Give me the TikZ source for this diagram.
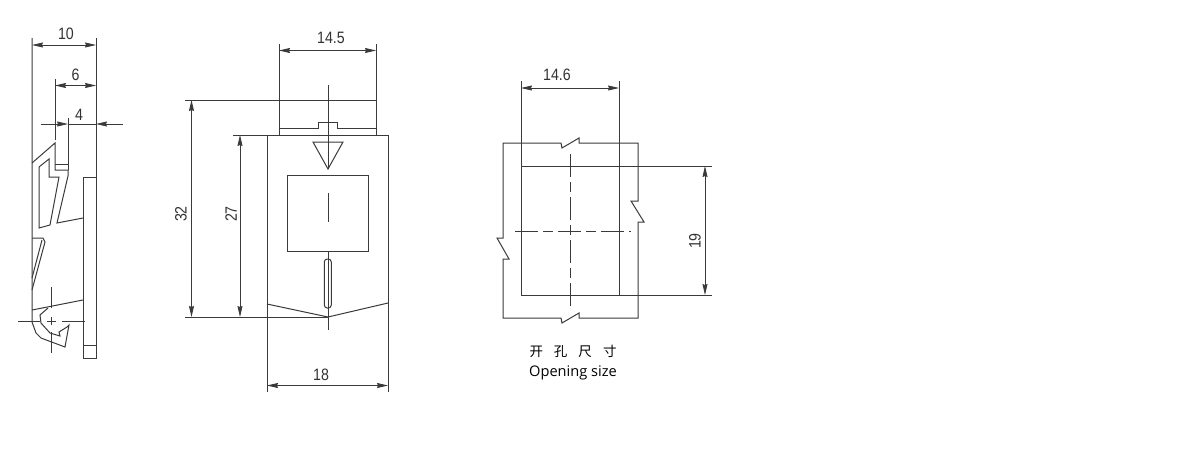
\documentclass[tikz,border=0pt]{standalone}
\usepackage{fontspec}
\setmainfont{Liberation Sans}
\newfontfamily\openfont{Open Sans}
\newfontfamily\cjkfont{Noto Sans CJK SC}
\usetikzlibrary{
    arrows.meta,
    positioning,
    calc
}
\definecolor{inkline}{HTML}{3A3A3A}
\definecolor{inktext}{HTML}{333333}
\newcommand{\dimtext}[1]{\scalebox{0.86}[1]{#1}}
\tikzset{
    % Outline of the parts
    outline/.style={
        draw=inkline,
        line width=1pt,
        line join=miter
    },
    % Thin extension lines
    extline/.style={
        draw=inkline,
        line width=0.9pt
    },
    % Dimension line with arrows at both ends
    dimline/.style={
        {Stealth[length=11pt, width=5pt, inset=1pt]}-{Stealth[length=11pt, width=5pt, inset=1pt]},
        draw=inkline,
        line width=0.8pt
    },
    % Arrow used by an outside dimension
    dimtip/.style={
        -{Stealth[length=11pt, width=5pt, inset=1pt]},
        draw=inkline,
        line width=0.8pt
    },
    % Centre lines
    centerline/.style={
        draw=inkline,
        line width=1pt,
        dash pattern=on 23pt off 5pt on 10pt off 5pt
    },
    % Dimension label
    dimlabel/.style={
        font=\fontsize{16.5}{18}\selectfont,
        text=inktext,
        inner sep=0pt
    }
}
\begin{document}
\begin{tikzpicture}[x=1pt, y=-1pt]
        \useasboundingbox[fill=white] (0,0) rectangle (1180,450);

        % Side view
        \draw[outline] (32,38) -- (32,322) -- (36,333) -- (41,338) -- (65,347) -- (69,325) -- (67,327) -- (59,332) -- (60,336) -- (50,333) -- (41,323) -- (40,315) -- (48,308);
        \draw[outline] (32,163) -- (55,143) -- (55,170) -- (68,170);
        \draw[outline] (55,164) -- (68,164);
        \draw[outline] (68,170) -- (68,176) -- (57,223) -- (83,218);
        \draw[outline] (39,167) -- (49,159) -- (49,177) -- (59,177) -- (50,225) -- (39,228) -- cycle;
        \draw[outline] (96,38) -- (96,358) -- (83,358) -- (83,177) -- (96,177);
        \draw[outline] (83,345) -- (96,345);
        \draw[outline] (32,238) -- (43,238) -- (45,242) -- (32,290);
        \draw[outline] (42,240) -- (32,278);
        \draw[outline] (32,310) -- (83,300);
        \draw[extline] (18,321) -- (40,321);
        \draw[extline] (47,321) -- (56,321);
        \draw[extline] (62,321) -- (85,321);
        \draw[extline] (51,287) -- (51,308);
        \draw[extline] (51,317) -- (51,325);
        \draw[extline] (51,332) -- (51,353);
        \draw[extline] (55,79) -- (55,140);
        \draw[extline] (68,118) -- (68,170);

        \coordinate (sideten1) at (32,45);
        \coordinate (sideten2) at (96,45);
        \coordinate (sidesix1) at (55,85.5);
        \coordinate (sidesix2) at (96,85.5);
        \coordinate (sidefour1) at (68,124);
        \coordinate (sidefour2) at (96,124);
        \coordinate (sidefourtail1) at (41,124);
        \coordinate (sidefourtail2) at (123,124);
        \draw[dimline] (sideten1) -- (sideten2);
        \draw[dimline] (sidesix1) -- (sidesix2);
        \draw[extline] (sidefour1) -- (sidefour2);
        \draw[dimtip] (sidefourtail1) -- (sidefour1);
        \draw[dimtip] (sidefourtail2) -- (sidefour2);
        \node[dimlabel] (labelten) at (66,33.5) {\dimtext{10}};
        \node[dimlabel] (labelsix) at (75.5,75) {\dimtext{6}};
        \node[dimlabel] (labelfour) at (79,115) {\dimtext{4}};

        % Front view
        \draw[outline] (279,44) -- (279,135);
        \draw[outline] (376,44) -- (376,135);
        \draw[outline] (279,128) -- (318,128) -- (318,122) -- (337,122) -- (337,128) -- (376,128);
        \draw[outline] (233,135) -- (388,135);
        \draw[outline] (267,135) -- (267,392);
        \draw[outline] (388,135) -- (388,392);
        \draw[extline] (185,100) -- (376,100);
        \draw[extline] (185,317) -- (328,317);
        \draw[outline] (313,142) -- (343,142) -- (328,169) -- cycle;
        \draw[outline] (287,175) rectangle (368,251);
        \draw[extline] (328,85) -- (328,169);
        \draw[extline] (328,193) -- (328,222);
        \draw[extline] (328,251) -- (328,330);
        \draw[outline, rounded corners=3pt] (324.3,259) rectangle (331.3,308);
        \draw[outline] (267,304) -- (328,317) -- (388,303);

        \coordinate (frontwide1) at (279,50.5);
        \coordinate (frontwide2) at (376,50.5);
        \coordinate (frontbase1) at (267,385.5);
        \coordinate (frontbase2) at (388,385.5);
        \coordinate (fronttall1) at (191.5,100);
        \coordinate (fronttall2) at (191.5,317);
        \coordinate (frontbody1) at (240,135);
        \coordinate (frontbody2) at (240,317);
        \draw[dimline] (frontwide1) -- (frontwide2);
        \draw[dimline] (frontbase1) -- (frontbase2);
        \draw[dimline] (fronttall1) -- (fronttall2);
        \draw[dimline] (frontbody1) -- (frontbody2);
        \node[dimlabel] (labelwide) at (331,38) {\dimtext{14.5}};
        \node[dimlabel] (labelbase) at (321,375) {\dimtext{18}};
        \node[dimlabel, rotate=90] (labeltall) at (181,214) {\dimtext{32}};
        \node[dimlabel, rotate=90] (labelbody) at (231,214) {\dimtext{27}};

        % Opening size
        \draw[outline] (503,143) -- (561,143) -- (562,148) -- (579,138) -- (579,143) -- (638,143) -- (638,201) -- (631,201) -- (644,222) -- (638,222) -- (638,318) -- (579,318) -- (579,313) -- (562,323) -- (561,318) -- (503,318) -- (503,259) -- (509,259) -- (497,238) -- (503,238) -- cycle;
        \draw[outline] (521,81) -- (521,295) -- (712,295);
        \draw[outline] (619,81) -- (619,295);
        \draw[outline] (521,166) -- (712,166);
        \draw[centerline] (570,154) -- (570,307);
        \draw[centerline] (515,231) -- (631,231);

        \coordinate (openwide1) at (521,88);
        \coordinate (openwide2) at (619,88);
        \coordinate (opentall1) at (705,166);
        \coordinate (opentall2) at (705,295);
        \draw[dimline] (openwide1) -- (openwide2);
        \draw[dimline] (opentall1) -- (opentall2);
        \node[dimlabel] (labelopenwide) at (557,75) {\dimtext{14.6}};
        \node[dimlabel, rotate=90] (labelopentall) at (695,241) {\dimtext{19}};
        \node[font=\cjkfont\fontsize{13.5}{15}\selectfont, text=black, inner sep=0pt] (titlecn) at (573,351) {开\hspace{11pt}孔\hspace{11pt}尺\hspace{11pt}寸};
        \node[font=\openfont\fontsize{14.6}{16}\selectfont, text=black, inner sep=0pt, below=8.5pt of titlecn] (titleen) {Opening size};
    \end{tikzpicture}
\end{document}
